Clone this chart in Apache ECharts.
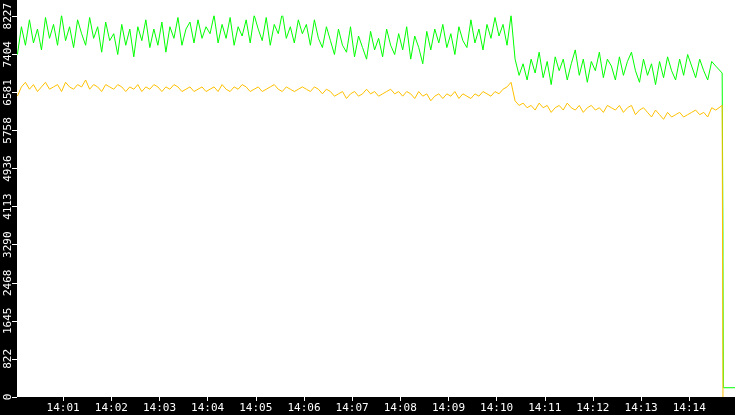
<!DOCTYPE html>
<html><head><meta charset="utf-8">
<script src="https://cdn.jsdelivr.net/npm/echarts@6/dist/echarts.min.js"></script>
<style>html,body{margin:0;padding:0;background:#fff}#c{width:735px;height:415px}</style>
</head><body><div id="c"></div>
<script>
// seconds after 14:00:00, sampled every 5 s from 14:00:03
const greenVals=[7400,8000,7600,8150,7650,7950,7500,8200,7750,8050,7600,8250,7700,8000,7550,8150,7850,7600,8200,7750,8000,7450,8100,7700,
7850,7400,8050,7600,7950,7350,8000,7700,8150,7550,7950,7600,8100,7450,8000,7750,8200,7600,7950,8100,7650,8150,7750,8000,
7850,8250,7650,8050,7750,8200,7600,8000,7800,8150,7650,8250,7950,7700,8200,7600,8050,7850,8300,7750,8000,7650,8150,7850,
8050,7600,8150,7750,7550,8000,7700,7400,7950,7600,7450,8000,7350,7800,7550,7300,7900,7500,7750,7350,7950,7600,7400,7850,
7500,8000,7300,7800,7550,7200,7900,7500,7950,7650,8050,7550,7850,7400,8000,7700,7550,8150,7650,7950,7500,8050,7750,8200,
7800,8050,7600,8250,
7300,6950,7200,6850,7300,7000,7450,6900,7250,6750,7350,7050,7300,6850,7200,7500,6950,7300,6800,7250,7050,7450,6900,7300,
7150,6850,7350,6950,7250,7450,7050,6800,7300,6950,7200,6750,7250,6900,7350,7050,6850,7300,6950,7400,7150,6900,7300,7050,6850,7250,7150];
const orangeVals=[6500,6700,6800,6650,6750,6600,6700,6800,6650,6700,6750,6600,6800,6700,6650,6750,6700,6850,6650,6750,6700,6600,6750,6700,
6650,6750,6700,6600,6700,6650,6750,6600,6700,6650,6750,6700,6600,6700,6650,6750,6700,6600,6650,6700,6600,6650,6700,6600,
6650,6700,6600,6750,6650,6600,6700,6650,6750,6700,6600,6650,6700,6600,6650,6700,6750,6650,6600,6700,6650,6600,6650,6700,
6650,6600,6700,6650,6550,6650,6600,6500,6550,6600,6450,6550,6600,6500,6550,6650,6550,6600,6500,6550,6600,6650,6550,6600,
6500,6600,6550,6450,6600,6500,6550,6400,6500,6550,6450,6550,6500,6600,6450,6550,6500,6450,6550,6500,6600,6550,6500,6600,
6550,6650,6700,6800,
6400,6300,6350,6250,6300,6200,6350,6250,6300,6150,6250,6300,6200,6350,6250,6200,6300,6150,6250,6300,6200,6250,6150,6300,
6250,6200,6300,6150,6250,6300,6100,6200,6250,6150,6050,6200,6100,6000,6150,6050,6100,6150,6050,6100,6150,6200,6100,6150,6050,6250,6200];
const greenTail=[[881,7000],[882,3400],[882,3000],[882.5,200],[897,200]];
const orangeTail=[[881,6300],[882,6300],[882,0]];
const tickMinutes=[1,2,3,4,5,6,7,8,9,10,11,12,13,14];
const yMax=8227;

const t0=3,step=5;
const gData=greenVals.map((v,i)=>[t0+i*step,v]).concat(greenTail);
const oData=orangeVals.map((v,i)=>[t0+i*step,v]).concat(orangeTail);
const chart=echarts.init(document.getElementById('c'));
chart.setOption({
  animation:false,
  grid:{left:17,right:0,top:0,bottom:18},
  graphic:[
    {type:'rect',left:0,top:0,shape:{width:17,height:415},style:{fill:'#000'},z:-1},
    {type:'rect',left:0,bottom:0,shape:{width:735,height:18},style:{fill:'#000'},z:-1}
  ],
  xAxis:{type:'value',min:2.5,max:897,
    axisLine:{show:false},splitLine:{show:false},
    axisTick:{show:true,customValues:tickMinutes.map(m=>m*60),length:4,lineStyle:{color:'#fff'}},
    axisLabel:{customValues:tickMinutes.map(m=>m*60),color:'#fff',fontSize:11,fontFamily:'DejaVu Sans Mono',margin:6,
      formatter:v=>'14:'+String(Math.round(v/60)).padStart(2,'0')}},
  yAxis:{type:'value',min:0,max:yMax,interval:yMax/10,
    axisLine:{show:false},splitLine:{show:false},
    axisTick:{show:true,length:5,lineStyle:{color:'#fff'}},
    axisLabel:{rotate:90,color:'#fff',fontSize:11,fontFamily:'DejaVu Sans Mono',margin:3,formatter:v=>String(Math.floor(v+0.001))}},
  series:[
    {type:'line',data:gData,showSymbol:false,lineStyle:{color:'#00ff00',width:1}},
    {type:'line',data:oData,showSymbol:false,lineStyle:{color:'#ffc000',width:1}}
  ]
});
</script></body></html>
